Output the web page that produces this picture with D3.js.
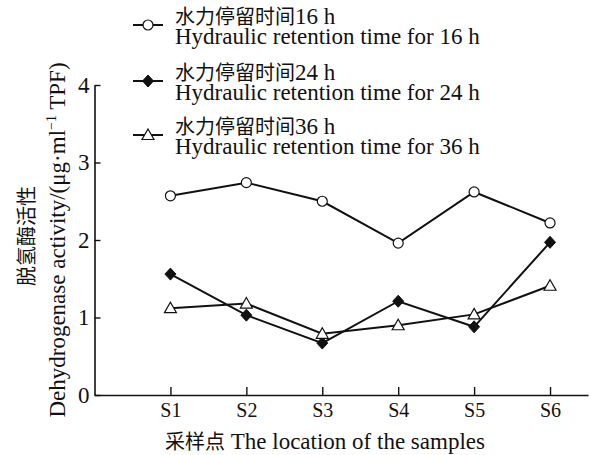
<!DOCTYPE html>
<html>
<head>
<meta charset="utf-8">
<script src="https://cdn.jsdelivr.net/npm/d3@7"></script>
<style>
    body { margin: 0; background: #fff; }
    text { font-family: 'Liberation Serif', 'Noto Sans CJK SC', serif; fill: #111; }
</style>
</head>
<body>
<svg id="chart" width="590" height="455"></svg>
<script>
'use strict';

// data
var sites = ['S1', 'S2', 'S3', 'S4', 'S5', 'S6']
var hrt16 = [2.57, 2.74, 2.50, 1.96, 2.62, 2.22]
var hrt24 = [1.56, 1.03, 0.67, 1.21, 0.88, 1.97]
var hrt36 = [1.12, 1.18, 0.79, 0.90, 1.04, 1.41]
var yTicks = [0, 1, 2, 3, 4]
var legendCn = ['水力停留时间16 h', '水力停留时间24 h', '水力停留时间36 h']
var legendEn = ['Hydraulic retention time for 16 h', 'Hydraulic retention time for 24 h', 'Hydraulic retention time for 36 h']

var svg = d3.select('#chart')

var x = d3.scaleLinear().domain([0, 6.5]).range([94.5, 588])
var y = d3.scaleLinear().domain([0, 4]).range([395, 85])

// axes
var xAxis = d3.axisBottom(x)
    .tickValues([1, 2, 3, 4, 5, 6])
    .tickFormat(function(d) { return sites[d - 1] })
    .tickSizeInner(-8)
    .tickSizeOuter(0)
    .tickPadding(8)
var gx = svg.append('g').attr('transform', 'translate(0,395)').call(xAxis)
gx.select('.domain').attr('stroke', '#111').attr('stroke-width', 1.6)
gx.selectAll('.tick line').attr('stroke', '#111').attr('stroke-width', 1.4)
gx.selectAll('.tick text').attr('font-size', 20).attr('font-family', 'Liberation Serif').attr('fill', '#111')

var yAxis = d3.axisLeft(y)
    .tickValues(yTicks)
    .tickFormat(d3.format('d'))
    .tickSizeInner(-6)
    .tickSizeOuter(0)
    .tickPadding(5)
var gy = svg.append('g').attr('transform', 'translate(94.5,0)').call(yAxis)
gy.select('.domain').attr('stroke', '#111').attr('stroke-width', 1.6)
gy.selectAll('.tick line').attr('stroke', '#111').attr('stroke-width', 1.4)
gy.selectAll('.tick text').attr('font-size', 23).attr('font-family', 'Liberation Serif').attr('fill', '#111')

// axis titles
var xt = svg.append('text')
    .attr('x', 325).attr('y', 449)
    .attr('text-anchor', 'middle')
xt.append('tspan').attr('font-size', 20).text('采样点')
xt.append('tspan').attr('font-size', 23).text(' The location of the samples')

svg.append('text')
    .attr('transform', 'translate(34,236) rotate(-90)')
    .attr('text-anchor', 'middle')
    .attr('font-size', 20)
    .text('脱氢酶活性')

var yl = svg.append('text')
    .attr('transform', 'translate(65,240) rotate(-90)')
    .attr('text-anchor', 'middle')
    .attr('font-size', 23)
yl.append('tspan').text('Dehydrogenase activity/(μg·ml')
yl.append('tspan').attr('font-size', 14).attr('dy', -9).text('−1')
yl.append('tspan').attr('dy', 9).text(' TPF)')

// lines + markers
var line = d3.line()
    .x(function(d, i) { return x(i + 1) })
    .y(function(d) { return y(d) })

var series = [
    { values: hrt16, kind: 'circle' },
    { values: hrt24, kind: 'diamond' },
    { values: hrt36, kind: 'triangle' }
]

function drawMarker(g, kind, cx, cy) {
    if (kind == 'circle') {
        g.append('circle').attr('cx', cx).attr('cy', cy).attr('r', 5)
            .attr('fill', '#fff').attr('stroke', '#111').attr('stroke-width', 1.2)
    } else if (kind == 'diamond') {
        g.append('path')
            .attr('d', 'M' + cx + ',' + (cy - 6) + 'L' + (cx + 5.5) + ',' + cy + 'L' + cx + ',' + (cy + 6) + 'L' + (cx - 5.5) + ',' + cy + 'Z')
            .attr('fill', '#111').attr('stroke', '#111').attr('stroke-width', 1)
    } else {
        g.append('path')
            .attr('d', 'M' + cx + ',' + (cy - 6) + 'L' + (cx + 6) + ',' + (cy + 4.5) + 'L' + (cx - 6) + ',' + (cy + 4.5) + 'Z')
            .attr('fill', '#fff').attr('stroke', '#111').attr('stroke-width', 1.2)
    }
}

series.forEach(function(s) {
    svg.append('path')
        .datum(s.values)
        .attr('d', line)
        .attr('fill', 'none')
        .attr('stroke', '#111')
        .attr('stroke-width', 2)
})
series.forEach(function(s) {
    var g = svg.append('g')
    s.values.forEach(function(v, i) {
        drawMarker(g, s.kind, x(i + 1), y(v))
    })
})

// legend
var legY = [25, 81, 135]
series.forEach(function(s, i) {
    var g = svg.append('g')
    g.append('line')
        .attr('x1', 133).attr('x2', 163)
        .attr('y1', legY[i]).attr('y2', legY[i])
        .attr('stroke', '#111').attr('stroke-width', 2)
    drawMarker(g, s.kind, 148, legY[i])
    var t = g.append('text')
        .attr('x', 175).attr('y', legY[i] - 1)
    t.append('tspan').attr('font-size', 20).text(legendCn[i].slice(0, 6))
    t.append('tspan').attr('font-size', 23).text(legendCn[i].slice(6))
    g.append('text')
        .attr('x', 175).attr('y', legY[i] + 19)
        .attr('font-size', 23)
        .text(legendEn[i])
})
</script>
</body>
</html>
